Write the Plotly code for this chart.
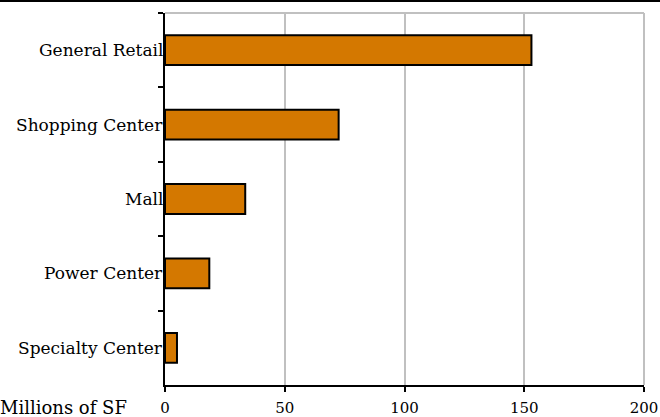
import plotly.graph_objects as go

categories = ["General Retail", "Shopping Center", "Mall", "Power Center", "Specialty Center"]
values = [153, 72.5, 33.5, 18.5, 5]
x_ticks = [0, 50, 100, 150, 200]
x_title = "Millions of SF"

FONT = "DejaVu Serif"
L, R, T, B = 165, 16, 13, 32
W, H = 660, 417
pw = W - L - R
ph = H - T - B

fig = go.Figure()
fig.add_trace(go.Bar(
    x=values, y=categories, orientation="h",
    marker=dict(color="#D47800", line=dict(color="black", width=2)),
    hoverinfo="skip",
))

annotations = []
for c in categories:
    annotations.append(dict(x=0, y=c, xref="x", yref="y", text=c, showarrow=False,
                            xanchor="right", yanchor="middle", xshift=0,
                            font=dict(family=FONT, size=17, color="black")))
annotations.append(dict(x=-L / pw, y=-(407 - (H - B)) / ph, xref="paper", yref="paper",
                        text=x_title, showarrow=False, xanchor="left", yanchor="middle",
                        xshift=-2,
                        font=dict(family=FONT, size=18, color="black")))

shapes = [
    dict(type="line", xref="paper", yref="paper", x0=-0.5, x1=1.5,
         y0=1 + (T - 1) / ph, y1=1 + (T - 1) / ph, line=dict(color="black", width=2)),
    dict(type="line", xref="paper", yref="paper", x0=0, x1=1, y0=1, y1=1,
         line=dict(color="#c0c0c0", width=2)),
    dict(type="line", xref="paper", yref="paper", x0=1, x1=1, y0=0, y1=1,
         line=dict(color="#c0c0c0", width=2)),
]

fig.update_layout(
    template="none",
    width=W, height=H,
    margin=dict(l=L, r=R, t=T, b=B, autoexpand=False),
    plot_bgcolor="white", paper_bgcolor="white",
    showlegend=False, bargap=0.6,
    annotations=annotations, shapes=shapes,
    xaxis=dict(range=[0, 200], tickvals=x_ticks, ticks="outside", ticklen=5, tickwidth=2,
               tickcolor="black", showline=True, linecolor="black", linewidth=2,
               showgrid=True, gridcolor="#c0c0c0", gridwidth=2, zeroline=False,
               automargin=False, ticklabelstandoff=3,
               tickfont=dict(family=FONT, size=15, color="black")),
    yaxis=dict(categoryorder="array", categoryarray=categories, autorange="reversed",
               showticklabels=False, ticks="outside", tickson="boundaries", ticklen=5,
               tickwidth=2, tickcolor="black", showline=True, linecolor="black",
               linewidth=2, showgrid=False, zeroline=False, automargin=False),
)

fig.write_html("out.html")
